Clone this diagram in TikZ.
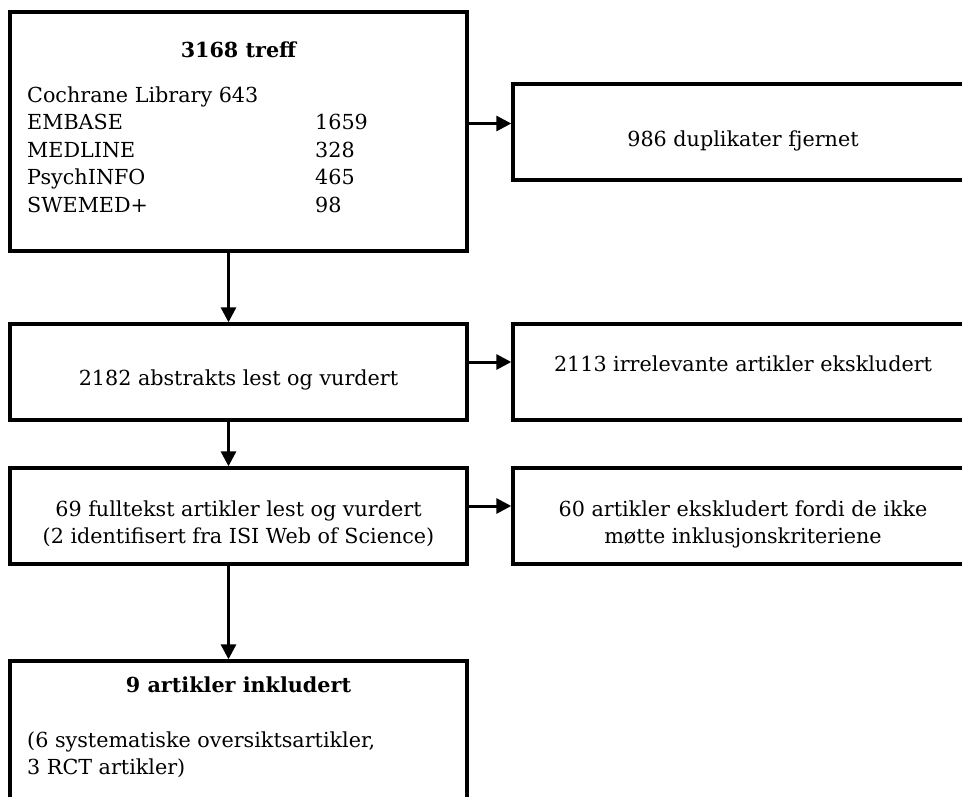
\documentclass[tikz,border=0pt]{standalone}
\usepackage{fontspec}
\setmainfont{DejaVu Serif}
\usetikzlibrary{arrows.meta,positioning}

\begin{document}
\begin{tikzpicture}[x=1pt,y=-1pt]
    % Define styles for boxes, texts and arrows
    \tikzstyle{box} = [rectangle, draw=black, line width=3.4pt, inner sep=0pt, minimum width=457pt, minimum height=96pt]
    \tikzstyle{wide} = [box, minimum width=460pt]
    \tikzstyle{txt} = [inner sep=0pt, anchor=base, font=\fontsize{20.7}{27}\selectfont]
    \tikzstyle{arrow} = [line width=3pt, -{Triangle[length=15pt,width=15pt]}]
    \useasboundingbox (0,0) rectangle (962,796);
    % Boxes
    \node (search) [box, minimum height=239pt] at (238.5,131.5) {};
    \node (dupl) [wide] at (743,132) {};
    \node (abstr) [box] at (238.5,372) {};
    \node (irrel) [wide] at (743,372) {};
    \node (fulltxt) [box] at (238.5,516) {};
    \node (excl) [wide] at (743,516) {};
    \node (incl) [box, minimum height=170pt] at (238.5,746) {};
    % Texts
    \node (searchhead) [txt, font=\fontsize{20.7}{27}\selectfont\bfseries] at (238.5,57) {3168 treff};
    \node (searchlist) [txt, anchor=base west, font=\fontsize{20.7}{27.6}\selectfont] at (27,102)
        {\begin{tabular}[t]{@{}p{288pt}@{}l@{}}
        \multicolumn{2}{@{}l@{}}{Cochrane Library 643}\\
        EMBASE & 1659\\
        MEDLINE & 328\\
        PsychINFO & 465\\
        SWEMED+ & 98
        \end{tabular}};
    \node (dupltext) [txt] at (743,146) {986 duplikater fjernet};
    \node (abstrtext) [txt] at (238.5,385) {2182 abstrakts lest og vurdert};
    \node (irreltext) [txt] at (743,371) {2113 irrelevante artikler ekskludert};
    \node (fulltxttext) [txt, align=center] at (238.5,543) {69 fulltekst artikler lest og vurdert\\(2 identifisert fra ISI Web of Science)};
    \node (excltext) [txt, align=center] at (743,543) {60 artikler ekskludert fordi de ikke\\møtte inklusjonskriteriene};
    \node (inclhead) [txt, font=\fontsize{20.7}{27}\selectfont\bfseries] at (238.5,692) {9 artikler inkludert};
    \node (incltext) [txt, anchor=base west, align=left] at (27,774) {(6 systematiske oversiktsartikler,\\3 RCT artikler)};
    % Arrows
    \draw [arrow] ([yshift=8pt]search.east) -- ([yshift=8pt]search.east -| dupl.west);
    \draw [arrow] ([xshift=-10pt]search.south) -- ([xshift=-10pt]abstr.north);
    \draw [arrow] ([yshift=10pt]abstr.east) -- ([yshift=10pt]irrel.west);
    \draw [arrow] ([xshift=-10pt]abstr.south) -- ([xshift=-10pt]fulltxt.north);
    \draw [arrow] ([yshift=10pt]fulltxt.east) -- ([yshift=10pt]excl.west);
    \draw [arrow] ([xshift=-10pt]fulltxt.south) -- ([xshift=-10pt]incl.north);
\end{tikzpicture}
\end{document}
